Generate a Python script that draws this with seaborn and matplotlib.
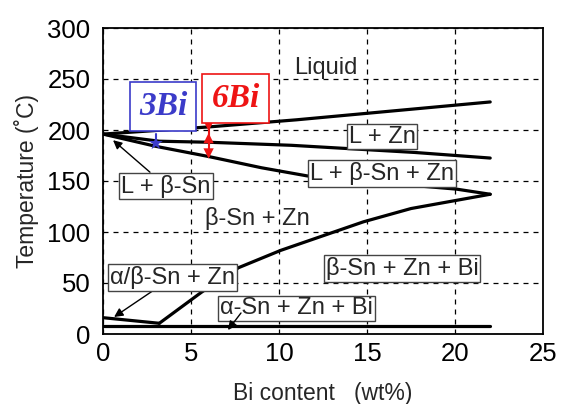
import matplotlib
matplotlib.use("Agg")
import matplotlib.pyplot as plt
import seaborn as sns
import pandas as pd

# Phase boundaries: Bi content (wt%) vs temperature (°C)
liquidus_x = [0, 6, 11, 22]
liquidus_t = [196, 203, 210, 227.5]
lzn_x = [0, 3.2, 6, 10.7, 17.7, 22]
lzn_t = [196, 189, 188, 185, 178, 172.5]
ternary_x = [0, 3, 6, 9, 11.6, 16, 20.1, 22]
ternary_t = [196, 184, 174, 163, 155, 148, 142, 137]
solvus_x = [3.2, 5.6, 7.7, 10.1, 14.8, 17.5, 22]
solvus_t = [10.5, 41, 65, 82, 110, 123, 137]
alpha_beta_x = [0, 3.2]
alpha_beta_t = [16, 10.5]
isotherm_x = [0, 22]
isotherm_t = [8, 8]

# Measured alloys
bi3_x = 3
bi3_line_t = [196, 187]
bi3_star_t = 187
bi6_x = 6
bi6_line_t = [206, 175]
bi6_down_t = [204, 177]
bi6_up_t = [192]

x_ticks = [0, 5, 10, 15, 20, 25]
y_ticks = [0, 50, 100, 150, 200, 250, 300]

sns.set_style("white")
plt.rcParams["font.family"] = ["Liberation Sans", "DejaVu Sans"]

fig = plt.figure(figsize=(5.61, 4.04), dpi=100)
ax = fig.add_axes([103 / 561, 70 / 404, 440 / 561, 306 / 404])

boundaries = [
    (liquidus_x, liquidus_t),
    (lzn_x, lzn_t),
    (ternary_x, ternary_t),
    (solvus_x, solvus_t),
    (alpha_beta_x, alpha_beta_t),
    (isotherm_x, isotherm_t),
]
for bx, bt in boundaries:
    df = pd.DataFrame({"x": bx, "t": bt})
    sns.lineplot(data=df, x="x", y="t", color="black", lw=2.3, ax=ax,
                 sort=False, estimator=None, zorder=3)

# 3Bi marker
blue = "#3b3bc9"
red = "#ee1414"
sns.lineplot(x=[bi3_x] * len(bi3_line_t), y=bi3_line_t, color=blue, lw=1.5,
             ax=ax, sort=False, estimator=None, zorder=4)
ax.scatter([bi3_x], [bi3_star_t], marker="*", s=110, color=blue, zorder=5,
           edgecolors="none")

# 6Bi markers
sns.lineplot(x=[bi6_x] * len(bi6_line_t), y=bi6_line_t, color=red, lw=1.5,
             ax=ax, sort=False, estimator=None, zorder=4)
ax.scatter([bi6_x] * len(bi6_down_t), bi6_down_t, marker="v", s=55, color=red,
           zorder=5, edgecolors="none")
ax.scatter([bi6_x] * len(bi6_up_t), bi6_up_t, marker="^", s=55, color=red,
           zorder=5, edgecolors="none")

ax.set_xlim(0, 25)
ax.set_ylim(0, 300)
ax.set_xticks(x_ticks)
ax.set_yticks(y_ticks)
ax.grid(True, color="black", ls=(0, (4, 4)), lw=0.9)
ax.set_axisbelow(True)
for s in ax.spines.values():
    s.set_color("black")
    s.set_linewidth(1.3)
ax.tick_params(direction="in", length=5, width=1, labelsize=18.5, colors="black")
ax.tick_params(axis="y", pad=9)
ax.tick_params(axis="x", pad=6)

ax.set_xlabel("Bi content   (wt%)", fontsize=16.5, labelpad=11)
ax.set_ylabel("Temperature (˚C)", fontsize=16.5, labelpad=6)

box = dict(boxstyle="square,pad=0.08", fc="white", ec="#444444", lw=1)
fs = 17
ax.text(12.67, 261, "Liquid", fontsize=fs, ha="center", va="center")
ax.text(8.75, 113.7, "β-Sn + Zn", fontsize=fs, ha="center", va="center")
ax.text(15.85, 193.6, "L + Zn", fontsize=fs, ha="center", va="center", bbox=box, zorder=6)
ax.text(15.85, 157, "L + β-Sn + Zn", fontsize=fs, ha="center", va="center", bbox=box, zorder=6)
ax.text(17.0, 64.2, "β-Sn + Zn + Bi", fontsize=fs, ha="center", va="center", bbox=box, zorder=6)

arrow = dict(arrowstyle="-|>", color="black", lw=1, mutation_scale=13,
             shrinkA=0, shrinkB=0)
ax.annotate("L + β-Sn", xy=(0.57, 190), xytext=(3.58, 145), fontsize=fs,
            ha="center", va="center", bbox=box, arrowprops=arrow, zorder=6)
ax.annotate("α/β-Sn + Zn", xy=(0.63, 16.7), xytext=(3.95, 55.4), fontsize=fs,
            ha="center", va="center", bbox=box, arrowprops=arrow, zorder=6)
ax.annotate("", xy=(7.1, 3.9), xytext=(7.84, 20.6), arrowprops=arrow, zorder=7)
ax.text(11.0, 25, "α-Sn + Zn + Bi", fontsize=fs, ha="center", va="center",
        bbox=box, zorder=6)

serif = ["Liberation Serif", "DejaVu Serif"]
ax.text(3.41, 223, "3Bi", fontsize=24, family=serif, weight="bold", style="italic",
        color=blue, ha="center", va="center", zorder=6,
        bbox=dict(boxstyle="square,pad=0.28", fc="white", ec=blue, lw=1.2))
ax.text(7.53, 231, "6Bi", fontsize=24, family=serif, weight="bold", style="italic",
        color=red, ha="center", va="center", zorder=6,
        bbox=dict(boxstyle="square,pad=0.28", fc="white", ec=red, lw=1.2))

fig.savefig("out.png", dpi=100)
